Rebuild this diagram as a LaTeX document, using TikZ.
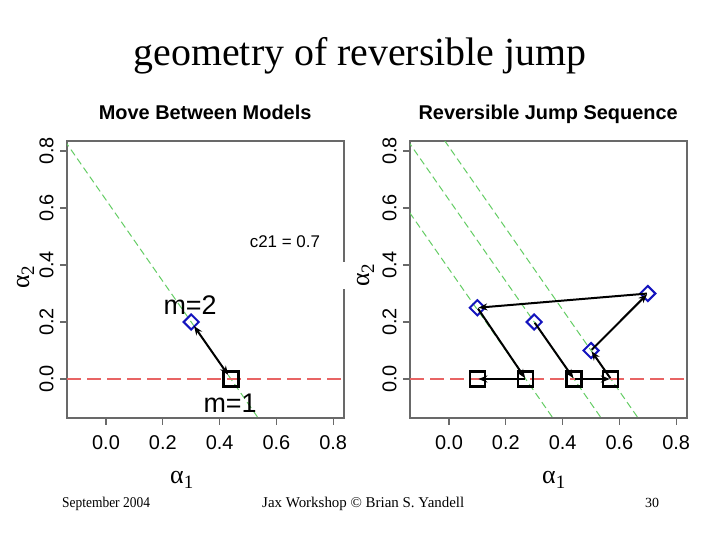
\documentclass[tikz,border=0pt]{standalone}
\usepackage{fontspec}
\usepackage{graphicx}
\setmainfont{Liberation Serif}
\newfontfamily\plotfont{Liberation Sans}
\usetikzlibrary{shapes.geometric,arrows.meta}
\definecolor{axgray}{RGB}{105,105,105}
\definecolor{lgreen}{RGB}{100,205,100}
\definecolor{lred}{RGB}{232,100,100}
\definecolor{dblue}{RGB}{20,20,190}
\newcommand{\alphalab}[1]{\fontsize{26}{26}\selectfont α\raisebox{-5bp}{\fontsize{19}{19}\selectfont #1}}
\newcommand{\plotframe}[1]{%
  \draw[plotbox] (-0.137,-0.137) rectangle (0.838,0.835);
  \foreach \v/\l [count=\i] in {0/0.0,0.2/0.2,0.4/0.4,0.6/0.6,0.8/0.8}{
    \draw[axtick] (\v,-0.137) -- ++(0,-7bp);
    \draw[axtick] (-0.137,\v) -- ++(-7bp,0);
    \node[ticklab] (#1-xl\i) at (\v,-0.249) {\l};
    \node[ticklab, rotate=90] (#1-yl\i) at (-0.185,\v) {\l};
  }
}
\newcommand{\contourline}[1]{%
  \begin{scope}
    \clip (-0.137,-0.137) rectangle (0.838,0.835);
    \draw[gline] ({#1-0.63},0.9) -- ({#1+0.14},-0.2);
  \end{scope}
}
\begin{document}
\begin{tikzpicture}[x=1bp,y=-1bp,
  plotbox/.style={draw=axgray, line width=1.3bp},
  axtick/.style={draw=axgray, line width=1.1bp},
  ticklab/.style={font=\plotfont\fontsize{20}{20}\selectfont, inner sep=0pt, anchor=base},
  gline/.style={draw=lgreen, line width=1bp, dash pattern=on 7bp off 4bp},
  redline/.style={draw=lred, line width=1.1bp, dash pattern=on 14bp off 6bp},
  sqpt/.style={draw=black, line width=2.2bp, rectangle, minimum size=15bp, inner sep=0pt},
  dmpt/.style={draw=dblue, line width=2bp, diamond, aspect=1, minimum size=16bp, inner sep=0pt},
  jump/.style={draw=black, line width=2bp, -{Stealth[length=9bp,width=7bp]}, shorten >=1bp, shorten <=1bp},
  ptitle/.style={font=\plotfont\bfseries\fontsize{20}{20}\selectfont, anchor=base, inner sep=0pt},
  ptext/.style={font=\plotfont\fontsize{#1}{#1}\selectfont, anchor=base, inner sep=0pt},
  alab/.style={inner sep=0pt},
  foot/.style={font=\fontsize{15}{15}\selectfont, anchor=base west, inner sep=0pt}]
\useasboundingbox (0,0) rectangle (720,540);
\fill[white] (0,0) rectangle (720,540);

\node[anchor=base, inner sep=0pt, font=\fontsize{40}{40}\selectfont] (title) at (360,66) {geometry of reversible jump};

% left plot
\begin{scope}[shift={(106bp,-379bp)}, x=284bp, y=285bp]
  \plotframe{L}
  \contourline{0.44}
  \draw[redline] (-0.137,0) -- (0.838,0);
  \node[sqpt] (L-s) at (0.44,0) {};
  \node[dmpt] (L-d) at (0.3,0.2) {};
  \draw[draw=black, line width=2bp, {Stealth[length=9bp,width=7bp]}-{Stealth[length=9bp,width=7bp]}, shorten <=5bp, shorten >=5bp] (L-s.center) -- (L-d.center);
  \node[ptitle] (L-title) at (0.349,0.909) {Move Between Models};
  \node[ptext=17] (c21) at (0.63,0.463) {c21 = 0.7};
  \node[ptext=27] (m2) at (0.296,0.225) {m=2};
  \node[ptext=27] (m1) at (0.437,-0.119) {m=1};
\end{scope}

\node[alab, anchor=base west] (L-a1) at (170,483) {\alphalab{1}};
\node[alab, rotate=90, anchor=base west] (L-a2) at (29,289) {\alphalab{2}};
\node[alab, rotate=90, anchor=base west, fill=white, inner xsep=2bp, inner ysep=15bp] (R-a2) at (369,289) {\alphalab{2}};
\node[alab, anchor=base west] (R-a1) at (542,483) {\alphalab{1}};

% right plot
\begin{scope}[shift={(449bp,-379bp)}, x=284bp, y=285bp]
  \plotframe{R}
  \contourline{0.27}
  \contourline{0.44}
  \contourline{0.57}
  \draw[redline] (-0.137,0) -- (0.838,0);
  \node[sqpt] (s1) at (0.1,0) {};
  \node[sqpt] (s2) at (0.27,0) {};
  \node[sqpt] (s3) at (0.44,0) {};
  \node[sqpt] (s4) at (0.57,0) {};
  \node[dmpt] (d1) at (0.3,0.2) {};
  \node[dmpt] (d2) at (0.5,0.1) {};
  \node[dmpt] (d3) at (0.7,0.3) {};
  \node[dmpt] (d4) at (0.1,0.25) {};
  \draw[jump] (d1.center) -- (s3.center);
  \draw[jump] (s3.center) -- (s4.center);
  \draw[jump] (s4.center) -- (d2.center);
  \draw[jump] (d2.center) -- (d3.center);
  \draw[jump] (d3.center) -- (d4.center);
  \draw[jump] (d4.center) -- (s2.center);
  \draw[jump] (s2.center) -- (s1.center);
  \node[ptitle] (R-title) at (0.349,0.909) {Reversible Jump Sequence};
\end{scope}

\node[foot] (date) at (62,507) {\scalebox{0.9}[1]{September 2004}};
\node[foot] (credit) at (262,507) {Jax Workshop © Brian S. Yandell};
\node[foot, font=\fontsize{14}{14}\selectfont] (page) at (645,507) {30};
\end{tikzpicture}
\end{document}
